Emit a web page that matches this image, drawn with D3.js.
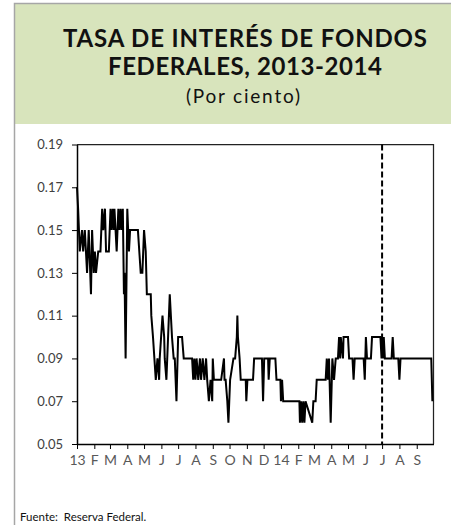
<!DOCTYPE html>
<html>
<head>
<meta charset="utf-8">
<script src="https://cdn.jsdelivr.net/npm/d3@7"></script>
<style>
  body { margin: 0; background: #fff; }
  text { font-family: Lato, "Open Sans", sans-serif; }
</style>
</head>
<body>
<script>
/******************************************************************************/
/* DATA                                                                       */
/******************************************************************************/
// days counted from 1 Jan 2013, rate in per cent
var dias = [0, 2, 5, 9, 11, 14, 16, 18, 21, 25, 27, 30, 32, 34, 38, 42, 45, 47, 50,
  52, 57, 60, 62, 64, 66, 67, 69, 71, 74, 76, 78, 80, 82, 84, 85, 87, 90, 93,
  95, 109, 114, 117, 120, 123, 125, 132, 133, 136, 141, 144, 147, 148, 153,
  156, 157, 160, 166, 170, 173, 175, 178, 181, 188, 191, 206, 208, 210, 212,
  214, 217, 220, 222, 225, 228, 231, 233, 236, 239, 242, 243, 245, 258, 263,
  264, 266, 269, 271, 274, 280, 283, 286, 287, 288, 291, 293, 302, 303, 305,
  315, 317, 331, 333, 335, 342, 343, 345, 355, 357, 364, 365, 367, 369, 398,
  399, 401, 403, 405, 407, 409, 421, 423, 427, 429, 445, 447, 449, 451, 452,
  454, 457, 460, 463, 467, 469, 471, 472, 476, 477, 485, 487, 493, 495, 497,
  513, 515, 517, 519, 526, 528, 543, 545, 546, 548, 549, 551, 563, 565, 567,
  575, 577, 579, 634, 636];
var tasa = [0.17, 0.16, 0.14, 0.15, 0.14, 0.15, 0.14, 0.13, 0.15, 0.12, 0.15,
  0.13, 0.14, 0.13, 0.14, 0.14, 0.16, 0.15, 0.16, 0.14, 0.14, 0.16, 0.15, 0.16,
  0.15, 0.16, 0.15, 0.14, 0.16, 0.15, 0.16, 0.15, 0.16, 0.12, 0.13, 0.09, 0.16,
  0.14, 0.15, 0.15, 0.13, 0.13, 0.15, 0.14, 0.12, 0.12, 0.11, 0.10, 0.08, 0.09,
  0.08, 0.09, 0.11, 0.10, 0.09, 0.08, 0.12, 0.10, 0.09, 0.09, 0.07, 0.10, 0.10,
  0.09, 0.09, 0.08, 0.09, 0.08, 0.09, 0.08, 0.09, 0.08, 0.09, 0.08, 0.09, 0.08,
  0.07, 0.08, 0.07, 0.09, 0.08, 0.08, 0.09, 0.08, 0.08, 0.07, 0.06, 0.08, 0.09,
  0.09, 0.10, 0.11, 0.10, 0.09, 0.08, 0.08, 0.07, 0.08, 0.08, 0.09, 0.09, 0.07,
  0.09, 0.09, 0.08, 0.09, 0.09, 0.08, 0.08, 0.07, 0.08, 0.07, 0.07, 0.06, 0.07,
  0.06, 0.07, 0.06, 0.07, 0.06, 0.07, 0.07, 0.08, 0.08, 0.09, 0.08, 0.09, 0.08,
  0.06, 0.09, 0.08, 0.09, 0.09, 0.10, 0.09, 0.10, 0.09, 0.10, 0.10, 0.09, 0.09,
  0.08, 0.09, 0.09, 0.08, 0.10, 0.09, 0.09, 0.10, 0.10, 0.09, 0.10, 0.09, 0.10,
  0.09, 0.09, 0.10, 0.09, 0.09, 0.08, 0.09, 0.09, 0.07];
var yTicks = [0.05, 0.07, 0.09, 0.11, 0.13, 0.15, 0.17, 0.19];
var mesLetras = ["E", "F", "M", "A", "M", "J", "J", "A", "S", "O", "N", "D"];
var marcaDia = 546; // 1 Jul 2014, dashed reference line

/******************************************************************************/
/* GLOBAL                                                                     */
/******************************************************************************/
var width = 451;
var height = 525;
var inicio = new Date(2013, 0, 1);
var fin = new Date(2014, 9, 1);

var svg = d3.select('body').append('svg')
  .attr('width', width)
  .attr('height', height);

var x = d3.scaleTime().domain([inicio, fin]).range([77, 433.5]);
var y = d3.scaleLinear().domain([0.05, 0.19]).range([444, 144.5]);

var serie = dias.map(function(d, i) {
  return { fecha: d3.timeDay.offset(inicio, d), valor: tasa[i] };
});

/******************************************************************************/
/* FRAME & TITLE                                                              */
/******************************************************************************/
svg.append('rect')
  .attr('x', 15).attr('y', 4)
  .attr('width', 460).attr('height', 120)
  .attr('fill', '#d8e4bc');
svg.append('path')
  .attr('d', 'M14.5,' + height + 'V3.5H' + width)
  .attr('fill', 'none')
  .attr('stroke', '#a6a6a6')
  .attr('stroke-width', 1.5);

var titulo = svg.append('g').attr('text-anchor', 'middle').attr('fill', '#111');
titulo.append('text').attr('x', 245).attr('y', 47)
  .attr('font-size', 24).attr('font-weight', 'bold')
  .attr('textLength', 364).attr('lengthAdjust', 'spacing')
  .text('TASA DE INTERÉS DE FONDOS');
titulo.append('text').attr('x', 245).attr('y', 75)
  .attr('font-size', 24).attr('font-weight', 'bold')
  .attr('textLength', 274).attr('lengthAdjust', 'spacing')
  .text('FEDERALES, 2013-2014');
titulo.append('text').attr('x', 243).attr('y', 103)
  .attr('font-size', 19)
  .attr('textLength', 114).attr('lengthAdjust', 'spacing')
  .text('(Por ciento)');

/******************************************************************************/
/* AXES                                                                       */
/******************************************************************************/
var meses = d3.timeMonth.range(inicio, fin);

var xAxis = d3.axisBottom(x)
  .tickValues(meses)
  .tickSize(5)
  .tickSizeOuter(0)
  .tickFormat(function(d) {
    return d.getMonth() === 0 ? String(d.getFullYear()).slice(2) : mesLetras[d.getMonth()];
  });
var gx = svg.append('g')
  .attr('transform', 'translate(0,' + y(0.05) + ')')
  .call(xAxis);
gx.select('.domain').attr('stroke', '#000').attr('stroke-width', 1.5);
gx.selectAll('.tick line').attr('stroke', '#000');
gx.selectAll('.tick text')
  .attr('font-size', 14).attr('font-family', 'Lato, sans-serif')
  .attr('fill', '#595959').attr('dy', '0.95em');

var yAxis = d3.axisLeft(y)
  .tickValues(yTicks)
  .tickSize(5)
  .tickSizeOuter(0)
  .tickFormat(d3.format('.2f'));
var gy = svg.append('g')
  .attr('transform', 'translate(' + x(inicio) + ',0)')
  .call(yAxis);
gy.select('.domain').attr('stroke', '#000').attr('stroke-width', 1.5);
gy.selectAll('.tick line').attr('stroke', '#000');
gy.selectAll('.tick text')
  .attr('font-size', 13).attr('font-family', 'Lato, sans-serif')
  .attr('fill', '#404040').attr('x', -14);

// top and right edges of the plot box
svg.append('path')
  .attr('d', 'M' + x(inicio) + ',' + y(0.19) + 'H' + x(fin) + 'V' + y(0.05))
  .attr('fill', 'none')
  .attr('stroke', '#222')
  .attr('stroke-width', 1.25);

/******************************************************************************/
/* SERIES                                                                     */
/******************************************************************************/
var linea = d3.line()
  .x(function(d) { return x(d.fecha); })
  .y(function(d) { return y(d.valor); });

svg.append('path')
  .datum(serie)
  .attr('d', linea)
  .attr('fill', 'none')
  .attr('stroke', '#000')
  .attr('stroke-width', 2)
  .attr('stroke-linejoin', 'miter');

var xm = x(d3.timeDay.offset(inicio, marcaDia));
svg.append('line')
  .attr('x1', xm).attr('x2', xm)
  .attr('y1', y(0.19)).attr('y2', y(0.05))
  .attr('stroke', '#000')
  .attr('stroke-width', 2)
  .attr('stroke-dasharray', '6,3');

/******************************************************************************/
/* SOURCE                                                                     */
/******************************************************************************/
svg.append('text')
  .attr('x', 20).attr('y', 521)
  .attr('font-size', 11.5)
  .attr('fill', '#111')
  .attr('xml:space', 'preserve')
  .text('Fuente:  Reserva Federal.');
</script>
</body>
</html>
